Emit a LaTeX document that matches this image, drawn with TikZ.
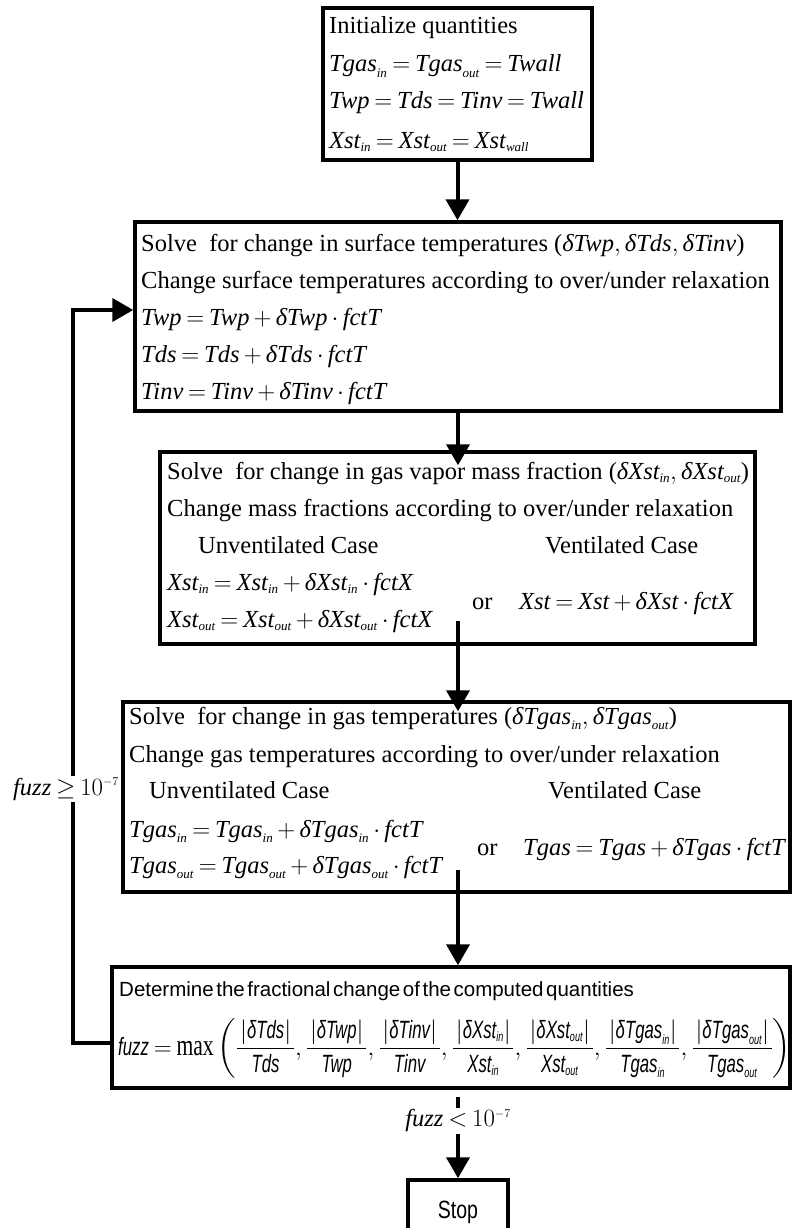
\documentclass[tikz,border=0pt]{standalone}
\usepackage{amsmath}
\usepackage{fontspec}
\setmainfont{Liberation Serif}
\newfontfamily\detsf[WordSpace=0.45]{Liberation Sans}
\newfontfamily\narrowsf[FakeStretch=0.67]{Liberation Sans}
\newfontfamily\stopsf[FakeStretch=0.78]{Liberation Sans}
\newfontfamily\tallrm[FakeStretch=0.72]{Liberation Serif}
\usetikzlibrary{arrows.meta}
\DeclareMathSizes{24.5}{24.5}{13}{10}
\DeclareMathSizes{25}{25}{13.5}{10}
\thickmuskip=3.5mu plus 2mu
\medmuskip=3mu plus 1mu
\newcommand\rv[1]{\textit{#1}}
\newcommand\sv[1]{\text{\narrowsf\itshape #1}}
\newcommand\fr[2]{\frac{\mkern2mu#1\mkern2mu}{#2}}
\newcommand\tallmax{\mathop{\text{\tallrm\fontsize{30}{30}\selectfont max}}}
\begin{document}
\begin{tikzpicture}[x=1pt, y=-1pt,
  box/.style={draw, rectangle, line width=3.5pt, inner sep=0pt},
  txt/.style={anchor=base west, inner sep=0pt, font=\fontsize{24.5}{29}\selectfont},
  arr/.style={line width=4pt, -{Triangle[length=21pt, width=23pt]}},
  lbl/.style={anchor=base, fill=white, inner sep=2pt, font=\fontsize{24.5}{29}\selectfont}]
\useasboundingbox (0,0) rectangle (792,1228);
% boxes
\node[box, minimum width=269pt, minimum height=152pt] (init) at (457.5,84) {};
\node[box, minimum width=646pt, minimum height=189pt] (solveT) at (458,316.5) {};
\node[box, minimum width=595pt, minimum height=192pt] (solveX) at (457.5,548) {};
\node[box, minimum width=667pt, minimum height=190pt] (gasT) at (456.5,797) {};
\node[box, minimum width=678pt, minimum height=121pt] (fuzz) at (451,1027.5) {};
\node[box, minimum width=100pt, minimum height=65pt, font=\stopsf\fontsize{25}{30}\selectfont] (stop) at (458,1212.5) {Stop};
% initial values
\node[txt] (init1) at (329,34) {Initialize quantities};
\node[txt] (init2) at (329,72) {$\rv{Tgas}_{\rv{in}} = \rv{Tgas}_{\rv{out}} = \rv{Twall}$};
\node[txt] (init3) at (329,109) {$\rv{Twp} = \rv{Tds} = \rv{Tinv} = \rv{Twall}$};
\node[txt] (init4) at (329,148) {$\rv{Xst}_{\rv{in}} = \rv{Xst}_{\rv{out}} = \rv{Xst}_{\rv{wall}}$};
% surface temperatures
\node[txt] (solveT1) at (141,251) {Solve\ \ for change in surface temperatures ($\rv{δTwp},\rv{δTds},\rv{δTinv}$)};
\node[txt] (solveT2) at (141,288) {Change surface temperatures according to over/under relaxation};
\node[txt] (solveT3) at (141,325) {$\rv{Twp} = \rv{Twp} + \rv{δTwp}\cdot\rv{fctT}$};
\node[txt] (solveT4) at (141,362) {$\rv{Tds} = \rv{Tds} + \rv{δTds}\cdot\rv{fctT}$};
\node[txt] (solveT5) at (141,399) {$\rv{Tinv} = \rv{Tinv} + \rv{δTinv}\cdot\rv{fctT}$};
% vapor mass fraction
\node[txt] (solveX1) at (167,479) {Solve\ \ for change in gas vapor mass fraction ($\rv{δXst}_{\rv{in}},\rv{δXst}_{\rv{out}}$)};
\node[txt] (solveX2) at (167,516) {Change mass fractions according to over/under relaxation};
\node[txt] (solveX3) at (198,553) {Unventilated Case};
\node[txt] (solveX4) at (545,553) {Ventilated Case};
\node[txt] (solveX5) at (167,590) {$\rv{Xst}_{\rv{in}} = \rv{Xst}_{\rv{in}} + \rv{δXst}_{\rv{in}}\cdot\rv{fctX}$};
\node[txt] (solveX6) at (167,627) {$\rv{Xst}_{\rv{out}} = \rv{Xst}_{\rv{out}} + \rv{δXst}_{\rv{out}}\cdot\rv{fctX}$};
\node[txt] (solveX7) at (472,609) {or};
\node[txt] (solveX8) at (519,609) {$\rv{Xst} = \rv{Xst} + \rv{δXst}\cdot\rv{fctX}$};
% gas temperatures
\node[txt] (gasT1) at (129,724) {Solve\ \ for change in gas temperatures ($\rv{δTgas}_{\rv{in}},\rv{δTgas}_{\rv{out}}$)};
\node[txt] (gasT2) at (129,762) {Change gas temperatures according to over/under relaxation};
\node[txt] (gasT3) at (149,798) {Unventilated Case};
\node[txt] (gasT4) at (548,798) {Ventilated Case};
\node[txt] (gasT5) at (129,837) {$\rv{Tgas}_{\rv{in}} = \rv{Tgas}_{\rv{in}} + \rv{δTgas}_{\rv{in}}\cdot\rv{fctT}$};
\node[txt] (gasT6) at (129,873) {$\rv{Tgas}_{\rv{out}} = \rv{Tgas}_{\rv{out}} + \rv{δTgas}_{\rv{out}}\cdot\rv{fctT}$};
\node[txt] (gasT7) at (477,855) {or};
\node[txt] (gasT8) at (523,855) {$\rv{Tgas} = \rv{Tgas} + \rv{δTgas}\cdot\rv{fctT}$};
% convergence
\node[txt, font=\detsf\fontsize{20.5}{25}\selectfont] (fuzz1) at (119,996) {Determine the fractional change of the computed quantities};
\node[txt, font=\fontsize{25}{30}\selectfont] (fuzz2) at (118,1055) {$\displaystyle \sv{fuzz} = \tallmax\left(\fr{|\sv{δTds}|}{\sv{Tds}},\fr{|\sv{δTwp}|}{\sv{Twp}},\fr{|\sv{δTinv}|}{\sv{Tinv}},\fr{|\sv{δXst}_{\sv{in}}|}{\sv{Xst}_{\sv{in}}},\fr{|\sv{δXst}_{\sv{out}}|}{\sv{Xst}_{\sv{out}}},\fr{|\sv{δTgas}_{\sv{in}}|}{\sv{Tgas}_{\sv{in}}},\fr{|\sv{δTgas}_{\sv{out}}|}{\sv{Tgas}_{\sv{out}}}\right)$};
% connectors
\coordinate (xout) at (458,621);
\coordinate (tout) at (458,870);
\draw[arr] (init.south) -- (init.south |- solveT.north);
\draw[arr, shorten >=-15pt] (solveT.south) -- (solveT.south |- solveX.north);
\draw[arr, shorten >=-11pt] (xout) -- (xout |- gasT.north);
\draw[arr] (tout) -- (tout |- fuzz.north);
\draw[arr, shorten <=7pt] (stop.north |- fuzz.south) -- node[lbl, pos=0.42] (lt) {$\rv{fuzz} < 10^{-7}$} (stop.north);
\draw[arr] ([yshift=-15.5pt]fuzz.west) -- ++(-37,0) |- ([yshift=6.5pt]solveT.west);
\node[lbl] (ge) at (66,795) {$\rv{fuzz} \geq 10^{-7}$};
\end{tikzpicture}
\end{document}
